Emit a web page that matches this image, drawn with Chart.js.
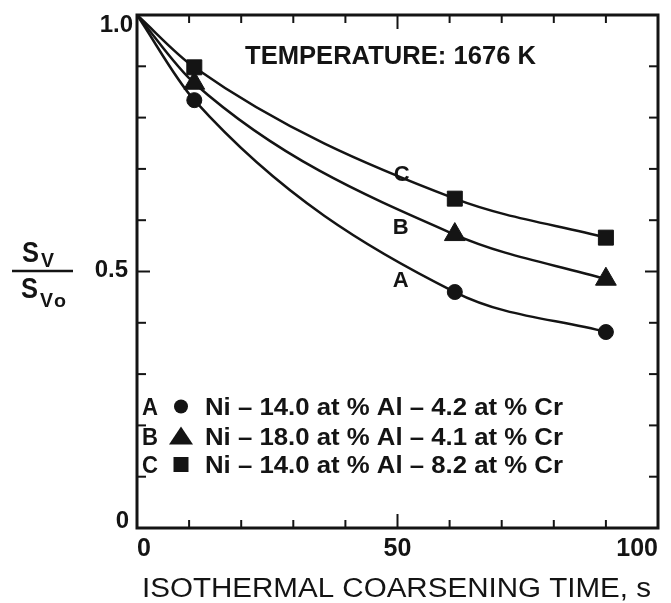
<!DOCTYPE html>
<html>
<head>
<meta charset="utf-8">
<script src="https://cdn.jsdelivr.net/npm/chart.js@4.4.1/dist/chart.umd.min.js"></script>
<style>
    html, body { margin: 0; padding: 0; background: #fff; }
    #wrap { width: 671px; height: 603px; }
</style>
</head>
<body>
<div id="wrap"><canvas id="chart"></canvas></div>
<script>
// data
const times = [0, 11, 61, 90];
const seriesA = [1.0, 0.834, 0.460, 0.382];
const seriesB = [1.0, 0.867, 0.572, 0.485];
const seriesC = [1.0, 0.898, 0.642, 0.566];
const seriesNames = ['A', 'B', 'C'];
const alloys = [
    'Ni – 14.0 at % Al – 4.2 at % Cr',
    'Ni – 18.0 at % Al – 4.1 at % Cr',
    'Ni – 14.0 at % Al – 8.2 at % Cr'
];
const xTickLabels = { 0: '0', 50: '50', 100: '100' };
const yTickValues = [1.0, 0.5, 0];
const yTickLabels = ['1.0', '0.5', '0'];
const chartTitle = 'TEMPERATURE: 1676 K';
const xTitle = 'ISOTHERMAL COARSENING TIME, s';

const INK = '#141414';
const FONT = 'Liberation Sans, Arial, sans-serif';

// where the A/B/C letters sit next to the curves (in data units)
const curveLabelPos = [{ x: 50.6, y: 0.481 }, { x: 50.6, y: 0.585 }, { x: 50.8, y: 0.688 }];

function makeSet(values, style, r) {
    return {
        data: times.map((t, i) => ({ x: t, y: values[i] })),
        borderColor: INK,
        borderWidth: 2.5,
        backgroundColor: INK,
        pointStyle: style,
        pointRadius: values.map((v, i) => i === 0 ? 0 : r),
        pointBorderWidth: 1,
        pointBackgroundColor: INK,
        pointBorderColor: INK,
        cubicInterpolationMode: 'monotone',
        clip: 12
    };
}

// draw text squeezed/stretched to a given width, x = left edge
function fitText(ctx, text, x, y, width, font) {
    ctx.font = font;
    const w = ctx.measureText(text).width;
    ctx.save();
    ctx.translate(x, y);
    ctx.scale(width / w, 1);
    ctx.textAlign = 'left';
    ctx.textBaseline = 'alphabetic';
    ctx.fillText(text, 0, 0);
    ctx.restore();
}

function line(ctx, x1, y1, x2, y2) {
    ctx.beginPath();
    ctx.moveTo(x1, y1);
    ctx.lineTo(x2, y2);
    ctx.stroke();
}

function marker(ctx, style, cx, cy) {
    ctx.beginPath();
    if (style === 'circle') {
        ctx.arc(cx, cy, 7, 0, Math.PI * 2);
    } else if (style === 'triangle') {
        ctx.moveTo(cx, cy - 10);
        ctx.lineTo(cx + 12, cy + 8);
        ctx.lineTo(cx - 12, cy + 8);
        ctx.closePath();
    } else {
        ctx.rect(cx - 7.5, cy - 7.5, 15, 15);
    }
    ctx.fill();
}

const decorations = {
    id: 'decorations',
    afterDraw(chart) {
        const { ctx, chartArea: a, scales: { x, y } } = chart;
        ctx.save();
        ctx.strokeStyle = INK;
        ctx.fillStyle = INK;

        // frame
        ctx.lineWidth = 3;
        ctx.strokeRect(a.left, a.top, a.right - a.left, a.bottom - a.top);

        // inward ticks on all four sides
        ctx.lineWidth = 2;
        x.ticks.forEach(t => {
            const v = Math.round(t.value);
            if (v <= 0 || v >= 100) return;
            const px = x.getPixelForValue(v);
            const len = v === 50 ? 14 : 8;
            line(ctx, px, a.bottom, px, a.bottom - len);
            line(ctx, px, a.top, px, a.top + len);
        });
        y.ticks.forEach(t => {
            const v = t.value;
            if (v <= 0.01 || v >= 0.99) return;
            const py = y.getPixelForValue(v);
            const len = Math.abs(v - 0.5) < 1e-6 ? 13 : 9;
            line(ctx, a.left, py, a.left + len, py);
            line(ctx, a.right, py, a.right - len, py);
        });

        // y tick labels
        const yOff = [10, -1, -7];
        const yRight = [133, 128, 129];
        ctx.font = 'bold 24px ' + FONT;
        ctx.textAlign = 'right';
        ctx.textBaseline = 'middle';
        yTickValues.forEach((v, i) => {
            ctx.fillText(yTickLabels[i], yRight[i], y.getPixelForValue(v) + yOff[i]);
        });

        // y axis title as a fraction Sv / Svo
        fitText(ctx, 'S', 22, 262, 17, 'bold 30px ' + FONT);
        fitText(ctx, 'V', 41, 267, 13, 'bold 20px ' + FONT);
        ctx.lineWidth = 2.5;
        line(ctx, 12, 271, 73, 271);
        fitText(ctx, 'S', 21, 298, 17, 'bold 30px ' + FONT);
        fitText(ctx, 'V', 40, 307, 13, 'bold 20px ' + FONT);
        fitText(ctx, 'o', 54, 307, 12, 'bold 19px ' + FONT);

        // x axis title
        fitText(ctx, xTitle, 142, 597, 509, '27px ' + FONT);

        // title inside the plot
        fitText(ctx, chartTitle, 245, 64, 291, 'bold 25px ' + FONT);

        // curve letters
        ctx.font = 'bold 22px ' + FONT;
        ctx.textAlign = 'center';
        ctx.textBaseline = 'middle';
        curveLabelPos.forEach((p, i) => {
            ctx.fillText(seriesNames[i], x.getPixelForValue(p.x), y.getPixelForValue(p.y));
        });

        // legend block
        const styles = ['circle', 'triangle', 'rect'];
        const rows = [415, 445, 473];
        rows.forEach((base, i) => {
            fitText(ctx, seriesNames[i], 142, base, 16, 'bold 23px ' + FONT);
            marker(ctx, styles[i], 181, base - 8.5);
            fitText(ctx, alloys[i], 205, base, 358, 'bold 23px ' + FONT);
        });

        ctx.restore();
    }
};

new Chart(document.getElementById('chart'), {
    type: 'line',
    data: {
        datasets: [
            makeSet(seriesA, 'circle', 7.5),
            makeSet(seriesB, 'triangle', 12),
            makeSet(seriesC, 'rect', 10.6)
        ]
    },
    options: {
        responsive: true,
        maintainAspectRatio: false,
        animation: false,
        layout: { padding: { left: 0, right: 13, top: 15, bottom: 0 } },
        plugins: {
            legend: { display: false },
            tooltip: { enabled: false }
        },
        scales: {
            x: {
                type: 'linear',
                min: 0,
                max: 100,
                grid: { display: false, drawTicks: false },
                border: { display: false },
                ticks: {
                    stepSize: 10,
                    autoSkip: false,
                    maxRotation: 0,
                    align: 'inner',
                    padding: 6,
                    color: INK,
                    font: { family: FONT, size: 25, weight: 'bold' },
                    callback: v => xTickLabels[Math.round(v)] ?? ''
                },
                afterFit: s => { s.height = 75; }
            },
            y: {
                type: 'linear',
                min: 0,
                max: 1,
                grid: { display: false, drawTicks: false },
                border: { display: false },
                ticks: { stepSize: 0.1, display: false },
                afterFit: s => { s.width = 137; }
            }
        }
    },
    plugins: [decorations]
});
</script>
</body>
</html>
